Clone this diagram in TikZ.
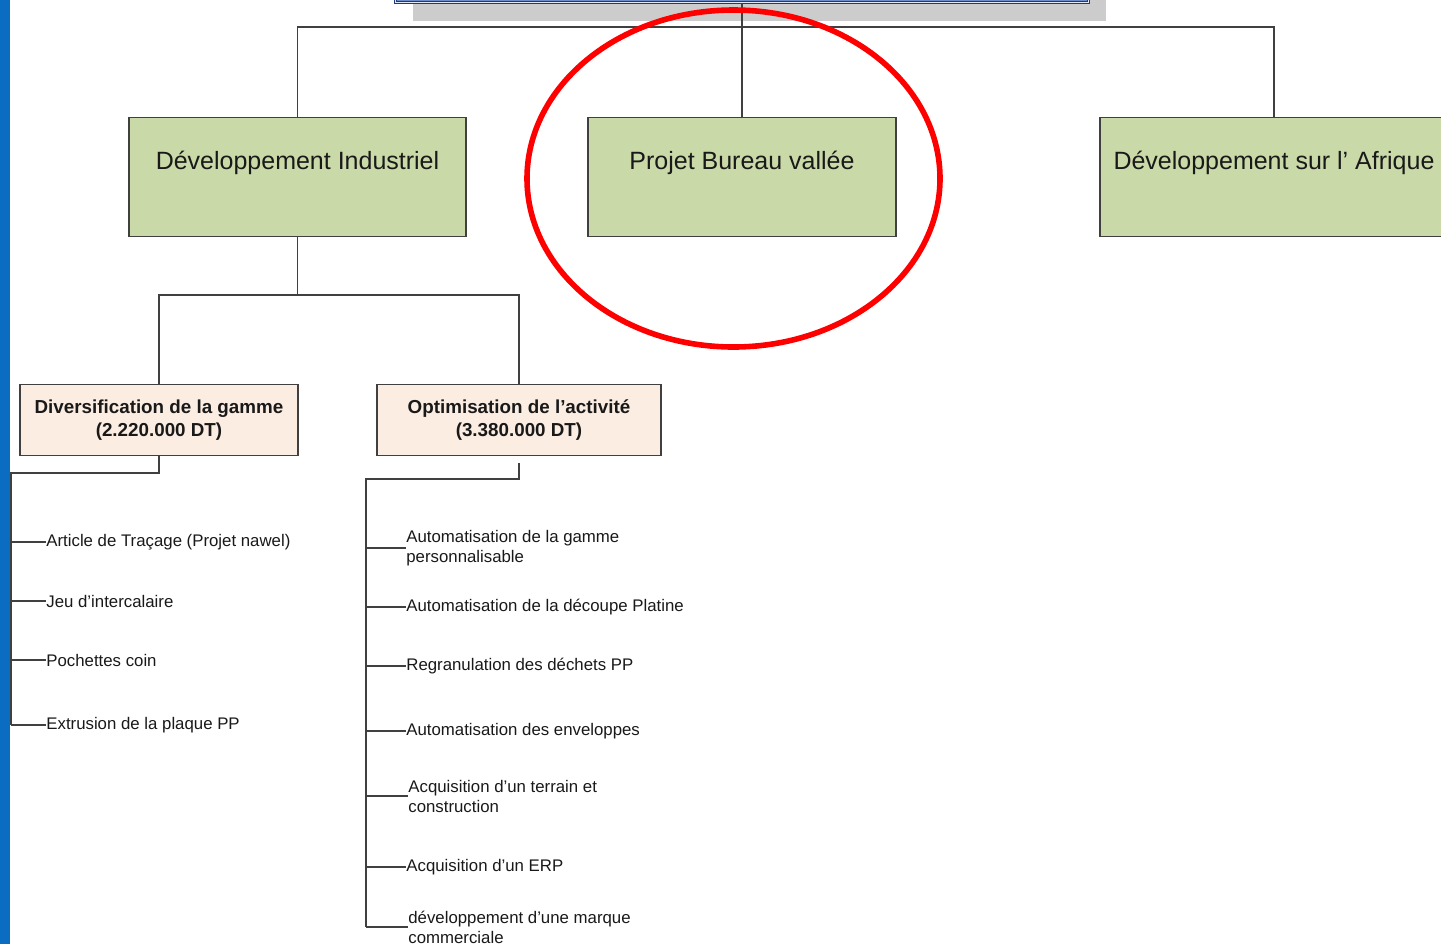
\documentclass[tikz,border=0pt]{standalone}
\usepackage{fontspec}
\setmainfont{Liberation Sans}
\usetikzlibrary{shadows}

\definecolor{vert}{HTML}{CAD9A8}
\definecolor{saumon}{HTML}{FCEDE2}
\definecolor{trait}{HTML}{404040}
\definecolor{bande}{HTML}{0A6DC2}
\definecolor{marine}{HTML}{1F3A7A}
\definecolor{bleutitre}{HTML}{6E8CC8}

\begin{document}
\begin{tikzpicture}[x=0.5pt,y=-0.5pt,
    lien/.style={draw=trait, line width=0.8pt},
    axe/.style={fill=vert, draw=trait, line width=0.6pt, anchor=north,
        inner xsep=0pt, inner ysep=0pt, text height=26pt, text depth=33.5pt,
        font=\fontsize{12.5}{14}\selectfont, text=black!90},
    volet/.style={fill=saumon, draw=trait, line width=0.6pt, anchor=north,
        minimum height=35.5pt, align=center, inner sep=0pt,
        font=\bfseries\fontsize{9.4}{11.5}\selectfont, text=black!90},
    action/.style={anchor=west, align=left, inner sep=0pt,
        font=\fontsize{8.4}{10}\selectfont, text=black!90}]

\useasboundingbox (0,0) rectangle (1441,944);
\clip (0,0) rectangle (1441,944);

% bande bleue a gauche
\fill[bande] (0,0) rectangle (10,944);

% titre (coupe en haut)
\node[anchor=south, minimum width=346.5pt, minimum height=40pt, fill=bleutitre,
    draw=marine, double=white!80!bleutitre, double distance=0.8pt,
    general shadow={fill=black!20, shadow xshift=8.5pt, shadow yshift=-9pt}]
    (titre) at (742,3) {};

% axes
\node[axe, minimum width=168.5pt] (indus) at (297.5,117) {Développement Industriel};
\node[axe, minimum width=154pt] (bureau) at (742,117) {Projet Bureau vallée};
\node[axe, minimum width=174pt] (afrique) at (1274,117) {Développement sur l’ Afrique};

\coordinate (bus) at (742,27);
\draw[lien] (titre.south) -- (bureau.north);
\draw[lien] (indus.north) |- (bus) -| (afrique.north);

% volets du developpement industriel
\node[volet, minimum width=139pt] (diversif) at (159,384) {Diversification de la gamme\\(2.220.000 DT)};
\node[volet, minimum width=142pt] (optim) at (519,384) {Optimisation de l’activité\\(3.380.000 DT)};

\coordinate (fourche) at (297.5,295);
\draw[lien] (indus.south) -- (fourche);
\draw[lien] (diversif.north) |- (fourche) -| (optim.north);

% actions de diversification
\node[action] (a1) at (46,542) {Article de Traçage (Projet nawel)};
\node[action] (a2) at (46,601) {Jeu d’intercalaire};
\node[action] (a3) at (46,660) {Pochettes coin};
\node[action] (a4) at (46,725) {Extrusion de la plaque PP};

\coordinate (dosA) at (11,473);
\draw[lien] (diversif.south) |- (dosA) -- (dosA |- a4.west);
\foreach \i in {1,...,4} \draw[lien] (dosA |- a\i.west) -- (a\i.west);

% actions d'optimisation
\node[action] (b1) at (406,548) {Automatisation de la gamme\\personnalisable};
\node[action] (b2) at (406,607) {Automatisation de la découpe Platine};
\node[action] (b3) at (406,666) {Regranulation des déchets PP};
\node[action] (b4) at (406,731) {Automatisation des enveloppes};
\node[action] (b5) at (408,796) {Acquisition d’un terrain et\\construction};
\node[action] (b6) at (406,867) {Acquisition d’un ERP};
\node[action] (b7) at (408,927) {développement d’une marque\\commerciale};

\coordinate (dosB) at (366,479);
\draw[lien] (optim.south) ++(0,7) |- (dosB) -- (dosB |- b7.west);
\foreach \i in {1,...,7} \draw[lien] (dosB |- b\i.west) -- (b\i.west);

% cercle rouge
\draw[red, line width=2.8pt] (733.5,178.5) ellipse [x radius=103.25pt, y radius=84.25pt];

\end{tikzpicture}
\end{document}
